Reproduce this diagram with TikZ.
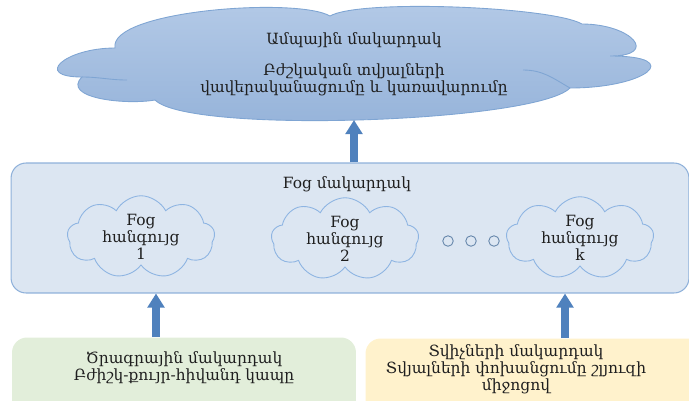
\documentclass[tikz,border=0pt]{standalone}
\usepackage{fontspec}
\setmainfont{DejaVu Serif}
\usetikzlibrary{arrows.meta,positioning,shapes.symbols,calc}

\definecolor{ink}{HTML}{1F1F1F}
\definecolor{skytop}{HTML}{B4CAE7}
\definecolor{skybot}{HTML}{94B2D9}
\definecolor{skyline}{HTML}{7FA5D3}
\definecolor{fogfill}{HTML}{DCE6F2}
\definecolor{fogline}{HTML}{8FB1DA}
\definecolor{puffline}{HTML}{8DB4E2}
\definecolor{arrowblue}{HTML}{4F81BD}
\definecolor{dotline}{HTML}{6485AA}
\definecolor{softfill}{HTML}{E2EEDA}
\definecolor{sensfill}{HTML}{FFF2CC}

\begin{document}
\begin{tikzpicture}[
  x=0.02cm, y=-0.02cm,
  % pixel-like units, y grows downward
  T/.style={font=\fontsize{8.8}{9.6}\selectfont, text=ink, align=center},
  CL/.style={T, cloud, cloud puffs=9, cloud puff arc=125, cloud ignores aspect,
             draw=puffline, fill=fogfill, line width=0.5pt, inner sep=0pt,
             minimum width=2.95cm, minimum height=1.6cm},
  B/.style={T, rectangle, rounded corners=0.3cm, inner sep=0pt},
  blk/.style={-{Triangle[length=0.28cm, width=0.33cm]}, line width=0.16cm,
              draw=arrowblue},
]
\clip (0,0) rectangle (689,400);

%% ── Cloud level ───────────────────────────────────────────────────
\path[draw=skyline, line width=0.5pt, top color=skytop, bottom color=skybot]
  (115,48) to[out=100, in=150, looseness=0.45] (330,16)
           to[out=30,  in=150, looseness=0.35] (582,24)
           to[out=0,   in=0,   looseness=3.0]  (610,56)
           to[out=0,   in=0,   looseness=3.8]  (570,88)
           to[out=225, in=315, looseness=0.3]  (155,100)
           to[out=190, in=225, looseness=1.0]  (82,77)
           to[out=180, in=180, looseness=2.9]  cycle;
\draw[skyline, line width=0.5pt] (82,77) to[out=0, in=180] (127,80);
\draw[skyline, line width=0.5pt] (570,88) to[out=150, in=0] (523,70);
\coordinate (ampbot) at (354,120);
\node[T] (amp) at (354,64)
      {Ամպային մակարդակ\\[0.28cm]Բժշկական տվյալների\\վավերականացումը և կառավարումը};

%% ── Fog level ─────────────────────────────────────────────────────
\node[B, draw=fogline, fill=fogfill, line width=0.6pt,
      minimum width=13.56cm, minimum height=2.6cm] (fog) at (350,228) {};
\node[T] (foglbl) at (347,184) {Fog մակարդակ};

\node[CL] (f1) at (141,237) {Fog\\հանգույց\\1};
\node[CL] (f2) at (345,239) {Fog\\հանգույց\\2};
\node[CL] (fk) at (580,238) {Fog\\հանգույց\\k};

\foreach \i/\x in {1/448, 2/471, 3/494}
  \node[circle, draw=dotline, line width=0.5pt, minimum size=0.21cm,
        inner sep=0pt] (d\i) at (\x,241) {};

%% ── Bottom levels ─────────────────────────────────────────────────
\node[B, fill=softfill, minimum width=6.88cm, minimum height=1.7cm]
      (soft) at (184,380) {};
\node[T] (softlbl) at (184,368) {Ծրագրային մակարդակ\\Բժիշկ-քույր-հիվանդ կապը};

\node[B, fill=sensfill, minimum width=6.9cm, minimum height=1.7cm]
      (sens) at (538,381) {};
\node[T] (senslbl) at (516,369)
      {Տվիչների մակարդակ\\Տվյալների փոխանցումը շլյուզի\\միջոցով};

%% ── Arrows ────────────────────────────────────────────────────────
\draw[blk] (fog.north -| ampbot) -- (ampbot);
\draw[blk] (soft.north -| 156,0) -- (fog.south -| 156,0);
\draw[blk] (sens.north -| 565,0) -- (fog.south -| 565,0);

\end{tikzpicture}
\end{document}
